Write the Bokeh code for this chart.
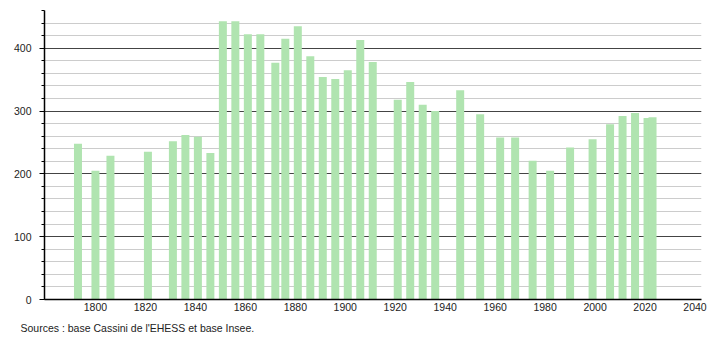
from bokeh.plotting import figure
from bokeh.models import Range1d, SingleIntervalTicker, FixedTicker, Title, ColumnDataSource
from bokeh.embed import file_html
from bokeh.resources import INLINE

years = [1793, 1800, 1806, 1821, 1831, 1836, 1841, 1846, 1851, 1856, 1861, 1866,
         1872, 1876, 1881, 1886, 1891, 1896, 1901, 1906, 1911, 1921, 1926, 1931,
         1936, 1946, 1954, 1962, 1968, 1975, 1982, 1990, 1999, 2006, 2011, 2016,
         2021, 2023]
population = [248, 205, 229, 235, 252, 262, 259, 233, 443, 443, 422, 422,
              377, 415, 435, 387, 354, 351, 365, 413, 378, 318, 346, 310,
              300, 333, 295, 258, 258, 221, 205, 242, 255, 279, 292, 297,
              289, 290]
x_ticks = [1800, 1820, 1840, 1860, 1880, 1900, 1920, 1940, 1960, 1980, 2000, 2020, 2040]
source_text = "Sources : base Cassini de l'EHESS et base Insee."

FONT = "Liberation Sans"

p = figure(width=710, height=340, output_backend="svg", toolbar_location=None,
           x_range=Range1d(1779.6, 2042.6), y_range=Range1d(0, 460),
           min_border_left=44, min_border_right=9, min_border_top=10,
           min_border_bottom=40)
p.outline_line_color = None
p.background_fill_color = "white"
p.border_fill_color = "white"

src = ColumnDataSource(dict(x=years, top=population))
p.vbar(x="x", top="top", width=3.2, source=src, fill_color="#b0e4b0",
       line_color=None)

# x axis
p.xaxis.ticker = FixedTicker(ticks=x_ticks)
p.xaxis.major_tick_out = 0
p.xaxis.major_tick_in = 0
p.xaxis.minor_tick_out = 0
p.xaxis.minor_tick_in = 0
p.xaxis.major_label_standoff = 3
p.xaxis.axis_line_color = "black"
p.xaxis.axis_line_width = 1.5
p.xaxis.major_label_text_font = FONT
p.xaxis.major_label_text_font_size = "10.5px"
p.xaxis.major_label_text_color = "#222222"
p.xgrid.visible = False

# y axis
p.yaxis.ticker = SingleIntervalTicker(interval=100, num_minor_ticks=5)
p.yaxis.major_tick_out = 5
p.yaxis.major_tick_in = 0
p.yaxis.minor_tick_out = 3
p.yaxis.minor_tick_in = 0
p.yaxis.major_label_standoff = 8
p.yaxis.axis_line_color = "black"
p.yaxis.axis_line_width = 1.5
p.yaxis.major_label_text_font = FONT
p.yaxis.major_label_text_font_size = "10.5px"
p.yaxis.major_label_text_color = "#222222"

p.ygrid.grid_line_color = "#444444"
p.ygrid.grid_line_width = 1
p.ygrid.minor_grid_line_color = "#cccccc"
p.ygrid.minor_grid_line_width = 1

t = Title(text=source_text, align="left", text_font=FONT, text_font_size="10.5px",
          text_font_style="normal", text_color="#222222", offset=-24, standoff=13)
p.add_layout(t, "below")

open("out.html", "w").write(file_html(p, INLINE))
